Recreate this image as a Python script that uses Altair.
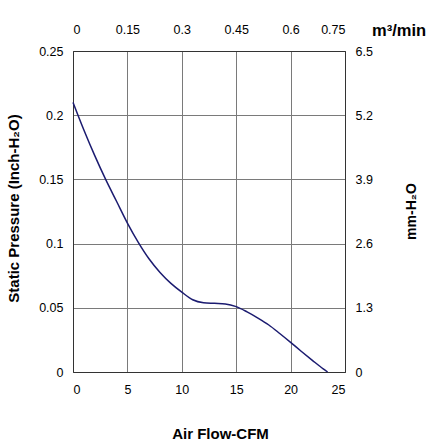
import altair as alt
import pandas as pd

# Fan P-Q curve: air flow (CFM) vs static pressure (inch H2O)
flow_cfm = [0, 1, 2, 3, 4, 5, 6, 7, 8, 9, 10, 11, 12, 13, 14, 15, 16, 17,
            18, 19, 20, 21, 22, 23, 23.4]
pressure_inch = [0.2100, 0.1885, 0.1685, 0.1500, 0.1330, 0.1160, 0.1010,
                 0.0880, 0.0775, 0.0690, 0.0622, 0.0563, 0.0540, 0.0535,
                 0.0530, 0.0509, 0.0468, 0.0420, 0.0366, 0.0300, 0.0231,
                 0.0160, 0.0091, 0.0024, 0.0]

# Axis tick values
cfm_ticks = [0, 5, 10, 15, 20, 25]
inch_ticks = [0, 0.05, 0.1, 0.15, 0.2, 0.25]
m3min_ticks = [0, 0.15, 0.3, 0.45, 0.6, 0.75]
mm_ticks = [0, 1.3, 2.6, 3.9, 5.2, 6.5]

FONT = "Liberation Sans"
W, H = 272, 321

curve_df = pd.DataFrame({"cfm": flow_cfm, "inch": pressure_inch})
metric_df = pd.DataFrame({"m3min": m3min_ticks, "mm": mm_ticks})

axis_common = dict(
    labelFont=FONT, labelFontSize=12.5, labelColor="#000",
    titleFont=FONT, titleFontWeight="bold", titleColor="#000",
    ticks=False, domainColor="#333", domainWidth=1,
    gridColor="#7a7a7a", gridWidth=1,
    labelExpr="toString(datum.value)",
)

curve = alt.Chart(curve_df).mark_line(
    color="#1b1b70", strokeWidth=1.5, interpolate="monotone"
).encode(
    x=alt.X("cfm:Q", scale=alt.Scale(domain=[0, 25], nice=False),
            axis=alt.Axis(values=cfm_ticks, grid=True, orient="bottom",
                          title="Air Flow-CFM", titleFontSize=15,
                          labelPadding=11, titleX=147, titleY=66,
                          titleAlign="center", titleBaseline="alphabetic",
                          **axis_common)),
    y=alt.Y("inch:Q", scale=alt.Scale(domain=[0, 0.25], nice=False),
            axis=alt.Axis(values=inch_ticks, grid=True, orient="left",
                          title="Static Pressure (Inch-H₂O)", titleFontSize=15,
                          labelPadding=10, titleX=-54.5, titleY=157,
                          titleAngle=270, titleAlign="center",
                          titleBaseline="alphabetic", **axis_common)),
)

metric = alt.Chart(metric_df).mark_point(opacity=0).encode(
    x=alt.X("m3min:Q", scale=alt.Scale(domain=[0, 0.75], nice=False),
            axis=alt.Axis(values=m3min_ticks, grid=False, orient="top",
                          title="m³/min", titleFontSize=16.5,
                          labelPadding=15, titleX=298.5, titleY=-15.3,
                          titleAlign="left", titleBaseline="alphabetic",
                          **axis_common)),
    y=alt.Y("mm:Q", scale=alt.Scale(domain=[0, 6.5], nice=False),
            axis=alt.Axis(values=mm_ticks, grid=False, orient="right",
                          title="mm-H₂O", titleFontSize=14,
                          labelPadding=10, titleX=70, titleY=160,
                          titleAngle=270, titleAlign="center",
                          titleBaseline="alphabetic", **axis_common)),
)

chart = alt.layer(curve, metric).resolve_scale(
    x="independent", y="independent"
).properties(
    width=W, height=H,
    autosize=alt.AutoSizeParams(type="none"),
    padding={"left": 73, "top": 51, "right": 84, "bottom": 75},
    background="white",
).configure_view(stroke="#333", strokeWidth=1)

chart.save("out.html", embed_options={"renderer": "svg", "actions": False})
